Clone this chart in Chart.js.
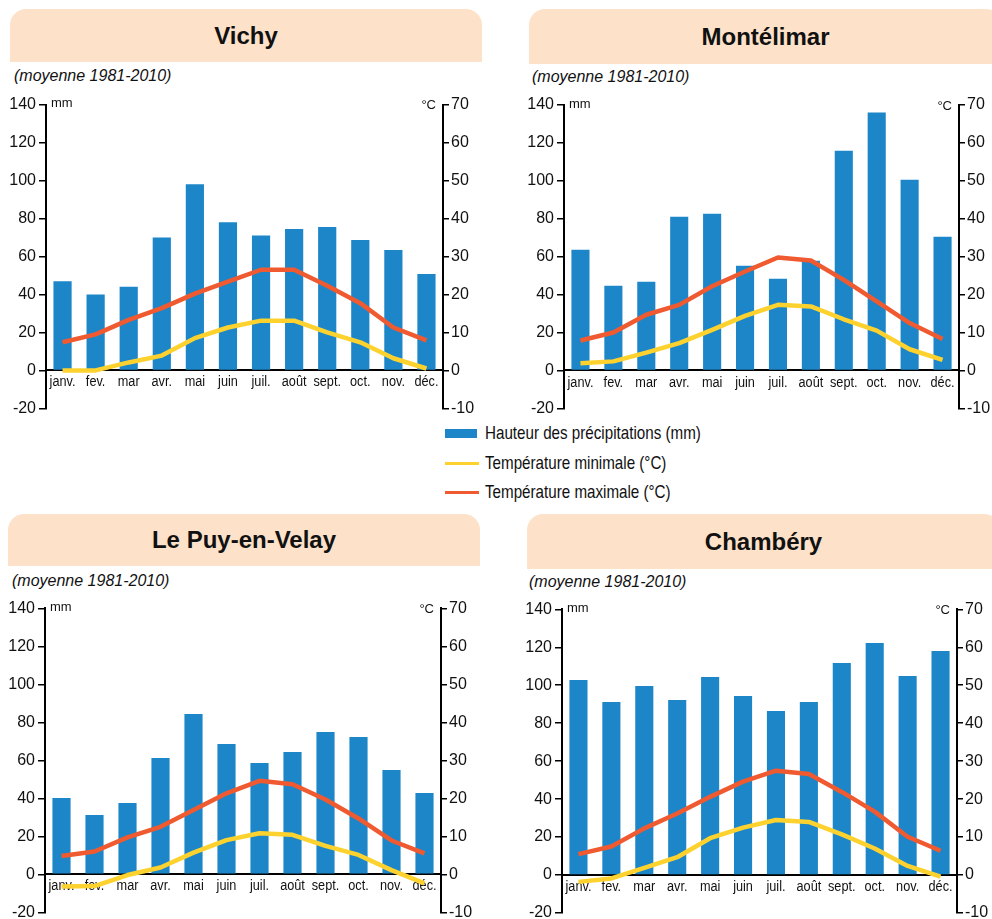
<!DOCTYPE html>
<html lang="fr">
<head>
<meta charset="utf-8">
<title>Climogrammes</title>
<script src="https://cdn.jsdelivr.net/npm/chart.js@4.4.1/dist/chart.umd.min.js"></script>
<style>
  body { margin: 0; width: 992px; height: 919px; overflow: hidden; background: #fff; position: relative;
         font-family: 'Liberation Sans', Arial, sans-serif; color: #111; }
  .titre { position: absolute; background: #fde2c9; border-radius: 16px 16px 0 0; font-weight: bold; font-size: 24px;
           display: flex; align-items: center; justify-content: center; }
  .sous { position: absolute; font-style: italic; font-size: 16px; }
  canvas { position: absolute; }
  .leg { position: absolute; left: 485px; font-size: 18.5px; line-height: 20px; white-space: nowrap;
         transform: scaleX(0.82); transform-origin: left center; }
  .mk { position: absolute; left: 445px; }
</style>
</head>
<body>

<div class="titre" style="left:10px;top:9px;width:472px;height:53px">Vichy</div>
<div class="titre" style="left:529px;top:9px;width:473px;height:55px">Montélimar</div>
<div class="titre" style="left:8px;top:514px;width:472px;height:52px">Le Puy-en-Velay</div>
<div class="titre" style="left:527px;top:514px;width:473px;height:55px">Chambéry</div>

<div class="sous" style="left:14px;top:67px">(moyenne 1981-2010)</div>
<div class="sous" style="left:532px;top:68px">(moyenne 1981-2010)</div>
<div class="sous" style="left:12px;top:572px">(moyenne 1981-2010)</div>
<div class="sous" style="left:529px;top:573px">(moyenne 1981-2010)</div>

<canvas id="vichy" width="496" height="330" style="left:0;top:90px"></canvas>
<canvas id="montelimar" width="492" height="330" style="left:500px;top:90px"></canvas>
<canvas id="puy" width="496" height="345" style="left:0;top:594px"></canvas>
<canvas id="chambery" width="492" height="345" style="left:500px;top:594px"></canvas>

<div class="mk" style="top:429px;width:32px;height:9px;background:#1d86c8"></div>
<div class="leg" style="top:423px">Hauteur des précipitations (mm)</div>
<div class="mk" style="top:462px;width:34px;height:3px;background:#fdd22f"></div>
<div class="leg" style="top:453px">Température minimale (°C)</div>
<div class="mk" style="top:491px;width:34px;height:3px;background:#f05a30"></div>
<div class="leg" style="top:482px">Température maximale (°C)</div>

<script>
const mois = ["janv.", "fev.", "mar", "avr.", "mai", "juin", "juil.", "août", "sept.", "oct.", "nov.", "déc."];

const vichyPluie = [47, 40, 44, 70, 98, 78, 71, 74.5, 75.5, 68.7, 63.4, 50.8];
const vichyTmin = [0, 0, 2.1, 3.9, 8.5, 11.3, 13.1, 13.1, 10, 7.4, 3.2, 0.5];
const vichyTmax = [7.4, 9.5, 13.3, 16.4, 20.2, 23.4, 26.5, 26.5, 22.3, 17.7, 11.3, 7.9];

const monteliPluie = [63.7, 44.7, 46.8, 81.1, 82.7, 55.2, 48.4, 57.9, 115.9, 136, 100.6, 70.5];
const monteliTmin = [1.9, 2.4, 4.7, 7.2, 10.7, 14.4, 17.3, 16.9, 13.5, 10.5, 5.6, 2.8];
const monteliTmax = [7.9, 10, 14.7, 17.3, 22.2, 26.1, 29.8, 29, 23.9, 18.2, 12.5, 8.3];

const puyPluie = [40.2, 31.2, 37.5, 61.2, 84.4, 68.6, 58.6, 64.4, 74.9, 72.3, 54.9, 42.8];
const puyTmin = [-3.2, -3.1, -0.2, 1.8, 5.7, 9, 10.8, 10.4, 7.5, 5.1, 1.1, -2.4];
const puyTmax = [4.8, 6, 9.7, 12.5, 16.9, 21.3, 24.6, 23.7, 19.7, 14.7, 8.9, 5.5];

const chamPluie = [102.8, 91.2, 99.6, 92.2, 104.3, 94.3, 86.4, 91.2, 111.7, 122.3, 104.9, 118];
const chamTmin = [-1.8, -0.9, 1.9, 4.7, 9.7, 12.5, 14.5, 14, 10.7, 7, 2.4, -0.4];
const chamTmax = [5.5, 7.5, 12.3, 16.2, 20.6, 24.6, 27.5, 26.6, 21.9, 16.7, 10.1, 6.4];

// echelles
const mmBornes = [-20, 140];
const mmPas = 20;
const degBornes = [-10, 70];
const degPas = 10;

const police = "'Liberation Sans', Arial, sans-serif";
Chart.defaults.font.family = police;
Chart.defaults.color = "#111";

// texte, eventuellement resserre (les mois sont en Arial Narrow sur l'original)
function ecrire(ctx, txt, px, py, serre) {
  ctx.save();
  ctx.translate(px, py);
  ctx.scale(serre, 1);
  ctx.fillText(txt, 0, 0);
  ctx.restore();
}

// libelles des axes, dessines avant les courbes
const etiquettes = {
  id: "etiquettes",
  beforeDatasetsDraw(chart) {
    const ctx = chart.ctx;
    const { x, y, y1 } = chart.scales;
    const zero = y.getPixelForValue(0);
    ctx.save();
    ctx.fillStyle = "#111";
    ctx.font = "15.5px " + police;
    ctx.textAlign = "center";
    ctx.textBaseline = "top";
    chart.data.labels.forEach((m, i) => ecrire(ctx, m, x.getPixelForTick(i), zero + 4, 0.82));
    ctx.font = "16px " + police;
    ctx.textBaseline = "middle";
    ctx.textAlign = "right";
    y.ticks.forEach(t => ecrire(ctx, String(t.value), y.right - 10, y.getPixelForValue(t.value), 1));
    ctx.textAlign = "left";
    y1.ticks.forEach(t => ecrire(ctx, String(t.value), y1.left + 8, y1.getPixelForValue(t.value), 1));
    // unites
    const a = chart.chartArea;
    ctx.font = "13px " + police;
    ecrire(ctx, "mm", a.left + 5, a.top - 1, 1);
    ctx.textAlign = "right";
    ecrire(ctx, "°C", a.right - 7, a.top + 1, 1);
    ctx.restore();
  }
};

function drawchart(id, pluie, tmin, tmax, g, d, haut, bas) {
  const ctx = document.getElementById(id).getContext("2d");
  new Chart(ctx, {
    data: {
      labels: mois,
      datasets: [
        { type: "line", data: tmax, yAxisID: "y1", borderColor: "#f05a30", borderWidth: 4.5,
          pointRadius: 0, tension: 0, order: 1, borderJoinStyle: "round" },
        { type: "line", data: tmin, yAxisID: "y1", borderColor: "#fdd22f", borderWidth: 4.5,
          pointRadius: 0, tension: 0, order: 2, borderJoinStyle: "round" },
        { type: "bar", data: pluie, yAxisID: "y", backgroundColor: "#1d86c8",
          barPercentage: 0.55, categoryPercentage: 1, order: 3 }
      ]
    },
    options: {
      responsive: false,
      animation: false,
      layout: { padding: { top: haut, bottom: bas, left: 0, right: 0 } },
      plugins: { legend: { display: false }, tooltip: { enabled: false } },
      scales: {
        x: {
          position: { y: 0 },
          grid: { display: true, drawOnChartArea: false, drawTicks: false },
          border: { display: true, color: "#000", width: 2 },
          ticks: { color: "transparent", padding: 5, font: { size: 15 }, maxRotation: 0, autoSkip: false }
        },
        y: {
          position: "left",
          min: mmBornes[0], max: mmBornes[1],
          afterFit: s => { s.width = g; },
          grid: { drawOnChartArea: false, drawTicks: true, tickLength: 7, color: "#000", lineWidth: 1.5 },
          border: { display: true, color: "#000", width: 2 },
          ticks: { color: "transparent", stepSize: mmPas, padding: 2, font: { size: 16 } }
        },
        y1: {
          position: "right",
          min: degBornes[0], max: degBornes[1],
          afterFit: s => { s.width = d; },
          grid: { drawOnChartArea: false, drawTicks: true, tickLength: 6, color: "#000", lineWidth: 1.5 },
          border: { display: true, color: "#000", width: 2 },
          ticks: { color: "transparent", stepSize: degPas, padding: 2, font: { size: 16 } }
        }
      }
    },
    plugins: [etiquettes]
  });
}

drawchart("vichy", vichyPluie, vichyTmin, vichyTmax, 46, 53, 14.5, 11.5);
drawchart("montelimar", monteliPluie, monteliTmin, monteliTmax, 64, 33, 15, 11.5);
drawchart("puy", puyPluie, puyTmin, puyTmax, 45, 55, 14.3, 26.7);
drawchart("chambery", chamPluie, chamTmin, chamTmax, 62, 35, 15.3, 26);
</script>
</body>
</html>
